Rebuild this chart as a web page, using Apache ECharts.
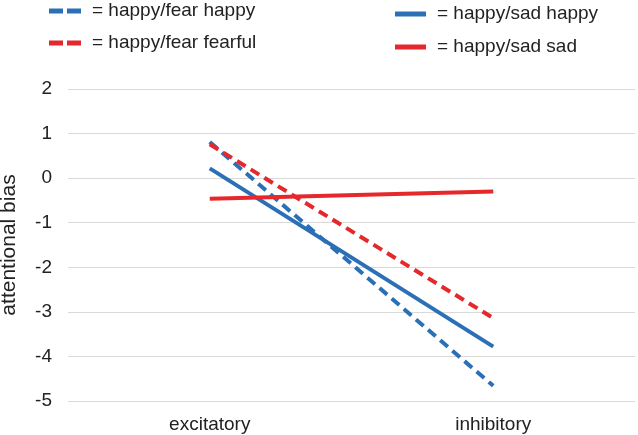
<!DOCTYPE html>
<html><head><meta charset="utf-8">
<script src="https://cdn.jsdelivr.net/npm/echarts@6/dist/echarts.min.js"></script>
<style>html,body{margin:0;padding:0;background:#fff}#c{width:638px;height:435px}</style>
</head><body><div id="c"></div>
<script>
const categories = ['excitatory', 'inhibitory'];
const fearHappy = [0.81, -4.66];
const fearFearful = [0.76, -3.14];
const sadHappy = [0.22, -3.78];
const sadSad = [-0.46, -0.30];
const yTicks = [-5, -4, -3, -2, -1, 0, 1, 2];

const BLUE = '#2b70b6', RED = '#e5282c';
const FONT = 'Liberation Sans, Arial, sans-serif';
const TXT = '#222';
const dashIcon = 'path://M0,0h14v5h-14z M18,0h14v5h-14z';
const solidIcon = 'path://M0,0h31v5h-31z';

function mk(name, data, color, dashed) {
  return {
    name, type: 'line', data, symbol: 'none', silent: true,
    lineStyle: { color, width: 4, type: dashed ? [10, 6] : 'solid', cap: 'butt' },
    itemStyle: { color }
  };
}

const chart = echarts.init(document.getElementById('c'), null, { renderer: 'canvas' });
chart.setOption({
  animation: false,
  backgroundColor: '#fff',
  textStyle: { fontFamily: FONT },
  grid: { left: 68, right: 3, top: 89, bottom: 34, containLabel: false, outerBoundsMode: 'none' },
  legend: [
    {
      orient: 'vertical', left: 49, top: 1, padding: 0, itemGap: 12,
      itemWidth: 32, itemHeight: 5,
      data: [{ name: 'happy/fear happy', icon: dashIcon }, { name: 'happy/fear fearful', icon: dashIcon }],
      formatter: '= {name}',
      textStyle: { fontSize: 19, color: TXT, fontFamily: FONT, lineHeight: 20, padding: [0, 0, 0, 6] }
    },
    {
      orient: 'vertical', left: 395, top: 4, padding: 0, itemGap: 13,
      itemWidth: 31, itemHeight: 5,
      data: [{ name: 'happy/sad happy', icon: solidIcon }, { name: 'happy/sad sad', icon: solidIcon }],
      formatter: '= {name}',
      textStyle: { fontSize: 19, color: TXT, fontFamily: FONT, lineHeight: 20, padding: [0, 0, 0, 6] }
    }
  ],
  xAxis: {
    type: 'category', data: categories, boundaryGap: true,
    axisLine: { show: false }, axisTick: { show: false },
    axisLabel: { fontSize: 19, color: TXT, fontFamily: FONT, margin: 14 },
    splitLine: { show: false }
  },
  yAxis: {
    type: 'value', min: yTicks[0], max: yTicks[yTicks.length - 1], interval: 1,
    name: 'attentional bias', nameLocation: 'middle', nameGap: 48, nameRotate: 90,
    nameTextStyle: { fontSize: 21, color: TXT, fontFamily: FONT },
    axisLine: { show: false }, axisTick: { show: false },
    axisLabel: { fontSize: 19, color: TXT, fontFamily: FONT, margin: 16 },
    splitLine: { show: true, lineStyle: { color: '#d9d9d9', width: 1 } }
  },
  series: [
    mk('happy/fear happy', fearHappy, BLUE, true),
    mk('happy/fear fearful', fearFearful, RED, true),
    mk('happy/sad happy', sadHappy, BLUE, false),
    mk('happy/sad sad', sadSad, RED, false)
  ]
});
</script></body></html>
